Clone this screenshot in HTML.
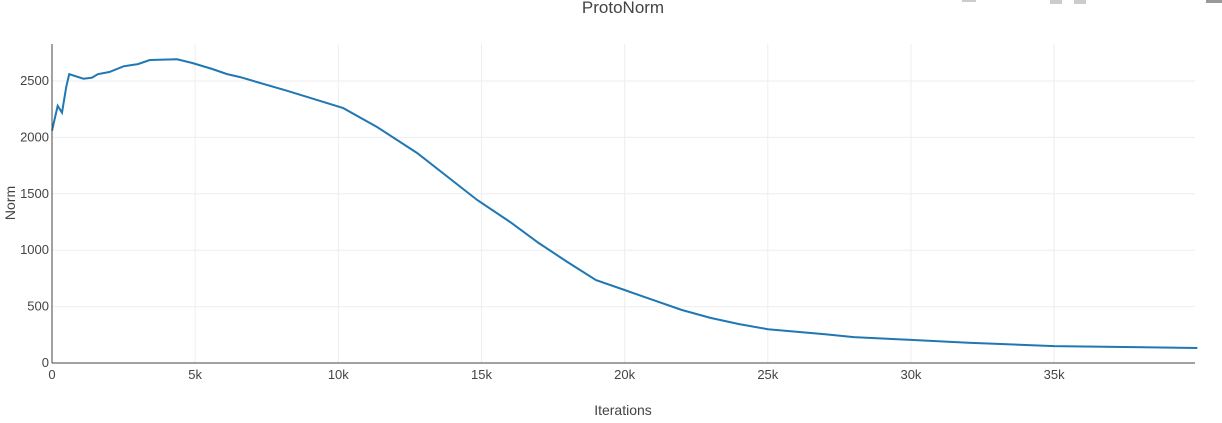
<!DOCTYPE html>
<html><head><meta charset="utf-8"><style>
body{margin:0;background:#fff;width:1222px;height:418px;overflow:hidden;font-family:"Liberation Sans",sans-serif}
</style></head><body>
<svg id="chart" width="1222" height="418" xmlns="http://www.w3.org/2000/svg">
<text x="623" y="13" text-anchor="middle" font-size="17" fill="#444">ProtoNorm</text>
<g fill="#ccc"><rect x="962" y="0" width="14" height="2"/><rect x="1050" y="0" width="12" height="4"/><rect x="1074" y="0" width="12" height="4"/><rect x="1206" y="0" width="16" height="3" fill="#999"/></g>
<g id="grid"></g>
<g id="ticks" font-size="13" fill="#444"></g>
<path id="line" fill="none" stroke="#1f77b4" stroke-width="2"/>
<line x1="52" y1="44" x2="52" y2="363" stroke="#444" stroke-width="1"/>
<line x1="52" y1="363" x2="1195" y2="363" stroke="#444" stroke-width="1"/>
<text x="623" y="415" text-anchor="middle" font-size="14" fill="#444">Iterations</text>
<text transform="translate(15,203) rotate(-90)" text-anchor="middle" font-size="14" fill="#444">Norm</text>
</svg>
<script>
const iters=[0,200,350,500,600,1100,1400,1600,2000,2500,3000,3420,4370,4900,5600,6100,6570,8200,10170,11350,12750,14850,16000,17000,18000,19000,20000,21000,22000,23000,24000,25000,27000,28000,30000,32000,35000,40000];
const norms=[2060,2280,2220,2450,2560,2520,2530,2560,2580,2630,2650,2686,2692,2660,2606,2562,2535,2414,2260,2092,1862,1445,1250,1064,895,735,647,558,470,400,345,300,255,230,205,180,150,133];
const xTicks=[0,5000,10000,15000,20000,25000,30000,35000];
const xTickLabels=["0","5k","10k","15k","20k","25k","30k","35k"];
const yTicks=[0,500,1000,1500,2000,2500];
const yTickLabels=["0","500","1000","1500","2000","2500"];
const X0=52,X1=1195,XMAX=39920,Y0=363,YPX=282/2500;
const xs=v=>X0+v/XMAX*(X1-X0);
const ys=v=>Y0-v*YPX;
const NS="http://www.w3.org/2000/svg";
const grid=document.getElementById('grid'),ticks=document.getElementById('ticks');
xTicks.forEach((t,i)=>{
 if(t>0){const l=document.createElementNS(NS,'line');
 l.setAttribute('x1',xs(t));l.setAttribute('x2',xs(t));l.setAttribute('y1',44);l.setAttribute('y2',Y0);l.setAttribute('stroke','#eee');
 
 
 grid.appendChild(l);}
 const tx=document.createElementNS(NS,'text');
 tx.setAttribute('x',xs(t));tx.setAttribute('y',Y0+16);tx.setAttribute('text-anchor','middle');tx.textContent=xTickLabels[i];
 
 
 ticks.appendChild(tx);
});
yTicks.forEach((t,i)=>{
 if(t>0){const l=document.createElementNS(NS,'line');
 l.setAttribute('x1',X0);l.setAttribute('x2',X1);l.setAttribute('y1',ys(t));l.setAttribute('y2',ys(t));l.setAttribute('stroke','#eee');
 
 
 grid.appendChild(l);}
 const tx=document.createElementNS(NS,'text');
 tx.setAttribute('x',X0-3);tx.setAttribute('y',ys(t)+4);tx.setAttribute('text-anchor','end');tx.textContent=yTickLabels[i];
 
 
 ticks.appendChild(tx);
});
document.getElementById('line').setAttribute('d',iters.map((v,i)=>(i?'L':'M')+xs(v).toFixed(1)+','+ys(norms[i]).toFixed(1)).join(' '));
</script>
</body></html>
